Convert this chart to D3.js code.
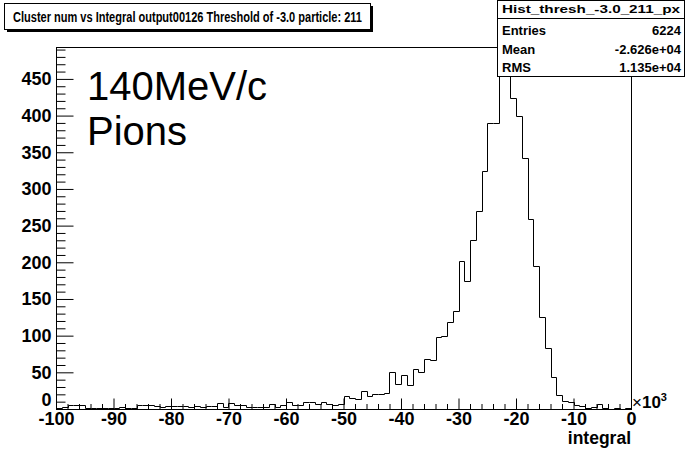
<!DOCTYPE html>
<html>
<head>
<meta charset="utf-8">
<script src="https://cdn.jsdelivr.net/npm/d3@7"></script>
<style>
  html, body { margin: 0; padding: 0; background: #fff; }
  svg { display: block; }
</style>
</head>
<body>
<svg id="chart" width="685" height="450"></svg>
<script>
// ---- Data (x in units of 10^3, bins of width 1 from -100 to 0) ----
const xMin = -100;
const xMax = 0;
const binWidth = 1;
const counts = [
  2, 3, 5, 5, 5, 1, 1, 2, 2, 2,        // -100 .. -90
  1, 3, 1, 1, 5, 5, 5, 4, 3, 4,        // -90 .. -80
  4, 4, 4, 3, 4, 3, 4, 4, 8, 3,        // -80 .. -70
  8, 5, 5, 3, 3, 3, 3, 7, 3, 6,        // -70 .. -60
  9, 5, 5, 10, 10, 7, 10, 7, 5, 7,     // -60 .. -50
  18, 15, 14, 24, 18, 20, 20, 22, 50, 34, // -50 .. -40
  46, 33, 55, 50, 68, 67, 98, 100, 119, 133, // -40 .. -30
  202, 175, 230, 270, 325, 390, 390, 465, 470, 424, // -30 .. -20
  400, 342, 259, 195, 125, 83, 43, 19, 11, 9,  // -20 .. -10
  6, 4, 2, 3, 7, 1, 0, 1, 0, 1           // -10 .. 0
];
const xTickValues = [-100, -90, -80, -70, -60, -50, -40, -30, -20, -10, 0];
const yTickValues = [0, 50, 100, 150, 200, 250, 300, 350, 400, 450];
const titleText = "Cluster num vs Integral output00126 Threshold of -3.0 particle: 211";
const statsName = "Hist_thresh_-3.0_211_px";
const statsLabels = ["Entries", "Mean", "RMS"];
const statsValues = ["6224", "-2.626e+04", "1.135e+04"];
const annotation = ["140MeV/c", "Pions"];
const xAxisTitle = "integral";

// ---- Layout ----
const frame = { left: 56, right: 631, top: 47, bottom: 409 };
const yMaxDomain = d3.max(counts) * 1.05;

const svg = d3.select("#chart");
const x = d3.scaleLinear().domain([xMin, xMax]).range([frame.left, frame.right]);
const y = d3.scaleLinear().domain([0, yMaxDomain]).range([frame.bottom, frame.top]);

const sans = "Liberation Sans, Arial, Helvetica, sans-serif";
const labelSize = 18;

// Frame
svg.append("rect")
  .attr("x", frame.left + 0.5).attr("y", frame.top + 0.5)
  .attr("width", frame.right - frame.left).attr("height", frame.bottom - frame.top)
  .attr("fill", "none").attr("stroke", "#000").attr("stroke-width", 1);

// Histogram outline
const pts = [[x(xMin), y(0)]];
counts.forEach((c, i) => {
  const lo = xMin + i * binWidth, hi = lo + binWidth;
  pts.push([x(lo), y(c)]);
  pts.push([x(hi), y(c)]);
});
pts.push([x(xMax), y(0)]);
svg.append("path")
  .attr("d", d3.line()(pts.map(p => [Math.round(p[0]) + 0.5, Math.round(p[1]) + 0.5])))
  .attr("fill", "none").attr("stroke", "#000").attr("stroke-width", 1);

const fmt = d => String(d);

// Y axis major
const yAxis = d3.axisLeft(y).tickValues(yTickValues).tickSizeInner(-17).tickSizeOuter(0).tickPadding(5)
  .tickFormat(fmt);
const gy = svg.append("g").attr("transform", `translate(${frame.left + 0.5},0)`).call(yAxis);
gy.select(".domain").remove();
gy.selectAll("text").attr("font-family", sans).attr("font-weight", "bold").attr("font-size", labelSize).attr("fill", "#000");
gy.selectAll("line").attr("stroke", "#000");
gy.selectAll(".tick").filter(d => d === 0).select("text").attr("dy", "-0.2em");
// Y axis minor
const yMinorVals = d3.range(0, yMaxDomain, 10).filter(v => v % 50 !== 0);
const yMinor = d3.axisLeft(y).tickValues(yMinorVals).tickSizeInner(-9).tickSizeOuter(0).tickFormat("");
const gym = svg.append("g").attr("transform", `translate(${frame.left + 0.5},0)`).call(yMinor);
gym.select(".domain").remove();
gym.selectAll("line").attr("stroke", "#000");

// X axis major
const xAxis = d3.axisBottom(x).tickValues(xTickValues).tickSizeInner(-11).tickSizeOuter(0).tickPadding(3)
  .tickFormat(fmt);
const gx = svg.append("g").attr("transform", `translate(0,${frame.bottom + 0.5})`).call(xAxis);
gx.select(".domain").remove();
gx.selectAll("text").attr("font-family", sans).attr("font-weight", "bold").attr("font-size", labelSize).attr("fill", "#000");
gx.selectAll("line").attr("stroke", "#000");
// X axis minor
const xMinorVals = d3.range(xMin, xMax, 2).filter(v => v % 10 !== 0);
const xMinor = d3.axisBottom(x).tickValues(xMinorVals).tickSizeInner(-5.5).tickSizeOuter(0).tickFormat("");
const gxm = svg.append("g").attr("transform", `translate(0,${frame.bottom + 0.5})`).call(xMinor);
gxm.select(".domain").remove();
gxm.selectAll("line").attr("stroke", "#000");

// x10^3 and axis title
const mult = svg.append("text").attr("x", frame.right + 1).attr("y", frame.bottom - 1)
  .attr("font-family", sans).attr("font-size", 17).attr("fill", "#000");
mult.append("tspan").text("\u00d7");
mult.append("tspan").attr("font-weight", "bold").text("10");
mult.append("tspan").attr("dy", -7).attr("font-size", 11).attr("font-weight", "bold").text("3");

svg.append("text").attr("x", frame.right).attr("y", 444).attr("text-anchor", "end")
  .attr("font-family", sans).attr("font-weight", "bold").attr("font-size", 17.5).text(xAxisTitle);

// Annotation
annotation.forEach((t, i) => {
  svg.append("text").attr("x", 87).attr("y", 100 + i * 45)
    .attr("font-family", sans).attr("font-size", 40).attr("fill", "#000").text(t);
});

// Title box with shadow
svg.append("rect").attr("x", 7).attr("y", 6).attr("width", 366).attr("height", 26).attr("fill", "#000");
svg.append("rect").attr("x", 4.5).attr("y", 3.5).attr("width", 366).attr("height", 26)
  .attr("fill", "#fff").attr("stroke", "#000");
svg.append("text").attr("x", 13).attr("y", 22).attr("font-family", sans)
  .attr("font-weight", "bold").attr("font-size", 14)
  .attr("textLength", 349).attr("lengthAdjust", "spacingAndGlyphs").text(titleText);

// Stats box
const sb = { x: 497, y: 0, w: 187, h: 76 };
svg.append("rect").attr("x", sb.x + 0.5).attr("y", sb.y + 0.5).attr("width", sb.w).attr("height", sb.h)
  .attr("fill", "#fff").attr("stroke", "#000");
svg.append("line").attr("x1", sb.x).attr("x2", sb.x + sb.w).attr("y1", 18.5).attr("y2", 18.5).attr("stroke", "#000");
svg.append("text").attr("x", 591).attr("y", 13).attr("text-anchor", "middle")
  .attr("font-family", sans).attr("font-weight", "bold").attr("font-size", 10.5)
  .attr("textLength", 178).attr("lengthAdjust", "spacingAndGlyphs").text(statsName);
statsLabels.forEach((lab, i) => {
  const yy = 35 + i * 18.5;
  svg.append("text").attr("x", 502).attr("y", yy)
    .attr("font-family", sans).attr("font-weight", "bold").attr("font-size", 13).text(lab);
  svg.append("text").attr("x", 681).attr("y", yy).attr("text-anchor", "end")
    .attr("font-family", sans).attr("font-weight", "bold").attr("font-size", 13).text(statsValues[i]);
});
</script>
</body>
</html>
